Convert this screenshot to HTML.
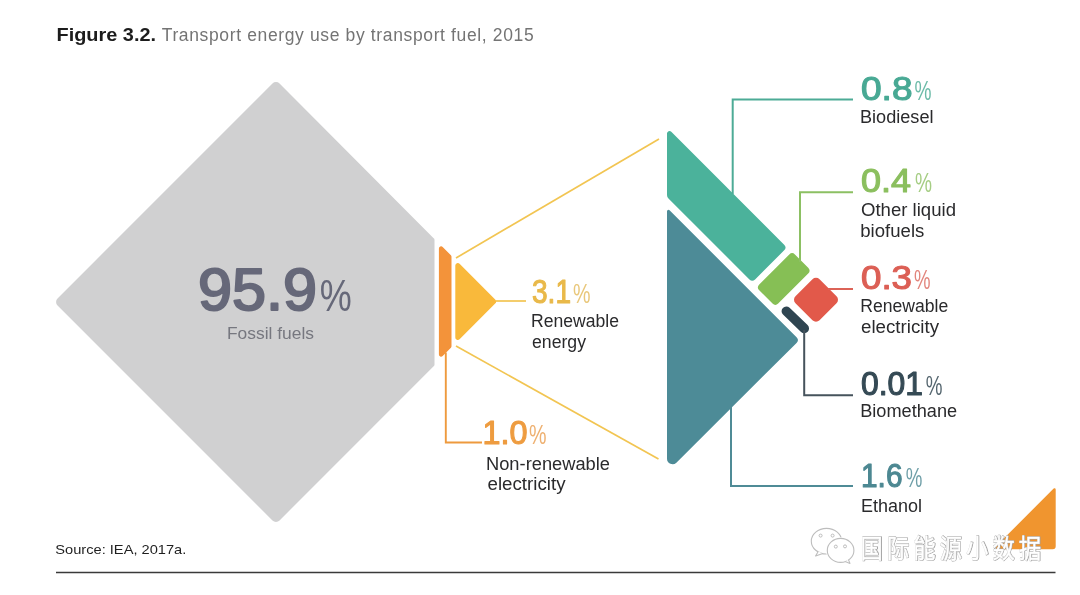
<!DOCTYPE html>
<html lang="en">
<head>
<meta charset="utf-8">
<title>Figure 3.2. Transport energy use by transport fuel, 2015</title>
<style>
html,body{margin:0;padding:0;background:#fff;}
body{width:1080px;height:595px;overflow:hidden;font-family:"Liberation Sans","Noto Sans CJK SC",sans-serif;}
svg{display:block;}
text{font-family:"Liberation Sans","Noto Sans CJK SC",sans-serif;}
.lbl{font-size:17.5px;fill:#2a2a2c;}
.num{font-size:32.5px;font-weight:normal;stroke-width:1.1px;stroke-linejoin:round;}
.pct{font-size:27px;font-weight:normal;}
.wm{font-family:"Noto Sans CJK SC","WenQuanYi Zen Hei",sans-serif;font-size:26.5px;}
</style>
</head>
<body>
<svg width="1080" height="595" viewBox="0 0 1080 595">
<rect width="1080" height="595" fill="#ffffff"/>

<!-- title -->
<text x="56.5" y="40.5" font-size="17.5" font-weight="bold" fill="#1c1c1c" textLength="99.5" lengthAdjust="spacingAndGlyphs">Figure 3.2.</text>
<text x="161.7" y="40.5" font-size="17.5" fill="#747474" textLength="372" lengthAdjust="spacing">Transport energy use by transport fuel, 2015</text>

<!-- fossil diamond -->
<path id="fossil" fill="#d0d0d1" d="M272.46,83.54A5.00,5.00 0 0 1 279.54,83.54L433.4,237.9A2.00,2.00 0 0 1 434.5,239.8L434.5,364.8A2.00,2.00 0 0 1 433.4,366.5L279.54,520.46A5.00,5.00 0 0 1 272.46,520.46L57.54,305.54A5.00,5.00 0 0 1 57.54,298.46Z"/>

<!-- orange bar + yellow triangle -->
<path fill="#f3933a" d="M438.90,248.51A2.20,2.20 0 0 1 442.66,246.96L450.91,255.21A2.00,2.00 0 0 1 451.50,256.63L451.50,346.37A2.00,2.00 0 0 1 450.91,347.79L442.66,356.04A2.20,2.20 0 0 1 438.90,354.49Z"/>
<path fill="#f9b93b" d="M455.30,265.54A2.50,2.50 0 0 1 459.57,263.77L495.18,299.38A3.00,3.00 0 0 1 495.18,303.62L459.57,339.23A2.50,2.50 0 0 1 455.30,337.46Z"/>
<g fill="none" stroke="#f2c552" stroke-width="1.7">
<line x1="456" y1="258" x2="659" y2="139"/>
<line x1="456" y1="346" x2="658.5" y2="459"/>
<line x1="496" y1="301" x2="526" y2="301"/>
</g>
<polyline points="445.8,352.5 445.8,442.5 482,442.5" fill="none" stroke="#ee9a3e" stroke-width="1.9"/>

<!-- right triangle pieces -->
<g id="pieces">
<path fill="#4bb29b" d="M667.00,133.54A2.50,2.50 0 0 1 671.27,131.77L784.17,244.67A4.00,4.00 0 0 1 784.17,250.33L755.08,279.42A4.00,4.00 0 0 1 749.42,279.42L668.46,198.46A5.00,5.00 0 0 1 667.00,194.93Z"/>
<path fill="#4d8b97" d="M667.00,211.32A1.50,1.50 0 0 1 669.56,210.26L796.57,337.27A4.00,4.00 0 0 1 796.56,342.93L676.38,462.65A5.50,5.50 0 0 1 667.00,458.76Z"/>
<path fill="#86bf55" d="M789.27,254.53A4.00,4.00 0 0 1 794.93,254.53L808.22,267.82A4.00,4.00 0 0 1 808.22,273.48L778.18,303.52A4.00,4.00 0 0 1 772.52,303.52L759.23,290.23A4.00,4.00 0 0 1 759.23,284.57Z"/>
<path fill="#e2594a" d="M812.46,279.27A5.00,5.00 0 0 1 819.54,279.27L836.53,296.26A5.00,5.00 0 0 1 836.53,303.34L819.54,320.33A5.00,5.00 0 0 1 812.46,320.33L795.47,303.34A5.00,5.00 0 0 1 795.47,296.26Z"/>
<line x1="786.3" y1="311.2" x2="804.3" y2="328.5" stroke="#2f4551" stroke-width="9.5" stroke-linecap="round"/>
</g>

<!-- connectors -->
<g fill="none" stroke-width="2">
<polyline points="732.7,194 732.7,99.5 853,99.5" stroke="#4dab96"/>
<polyline points="800,262 800,192.3 853,192.3" stroke="#8cc063"/>
<line x1="828" y1="289" x2="853" y2="289" stroke="#dc6357"/>
<polyline points="804.2,330 804.2,395.3 853,395.3" stroke="#46535c"/>
<polyline points="731,406 731,486 853,486" stroke="#4f8b96"/>
</g>

<!-- fossil text -->
<text x="198" y="310.2" font-size="59" fill="#666879" stroke="#666879" stroke-width="2.1" stroke-linejoin="round" textLength="119" lengthAdjust="spacingAndGlyphs">95.9</text>
<text x="319.8" y="311" font-size="45" fill="#666879" textLength="32" lengthAdjust="spacingAndGlyphs">%</text>
<text x="227" y="339" font-size="17" fill="#76777f" textLength="87" lengthAdjust="spacingAndGlyphs">Fossil fuels</text>

<!-- 3.1 -->
<text class="num" x="532" y="302.8" fill="#e9b94a" stroke="#e9b94a" textLength="39" lengthAdjust="spacingAndGlyphs">3.1</text>
<text class="pct" x="573" y="302.8" fill="#e9c77a" textLength="17.5" lengthAdjust="spacingAndGlyphs">%</text>
<text class="lbl" x="531" y="327" textLength="88" lengthAdjust="spacingAndGlyphs">Renewable</text>
<text class="lbl" x="532" y="347.7" textLength="54" lengthAdjust="spacingAndGlyphs">energy</text>

<!-- 1.0 -->
<text class="num" x="482.5" y="444.4" fill="#ee9c40" stroke="#ee9c40" textLength="45" lengthAdjust="spacingAndGlyphs">1.0</text>
<text class="pct" x="529" y="444.4" fill="#eeb070" textLength="17.5" lengthAdjust="spacingAndGlyphs">%</text>
<text class="lbl" x="486" y="469.5" textLength="124" lengthAdjust="spacingAndGlyphs">Non-renewable</text>
<text class="lbl" x="487.5" y="490" textLength="78" lengthAdjust="spacingAndGlyphs">electricity</text>

<!-- 0.8 -->
<text class="num" x="861" y="99.5" fill="#48a994" stroke="#48a994" textLength="51.5" lengthAdjust="spacingAndGlyphs">0.8</text>
<text class="pct" x="914.5" y="99.5" fill="#6cbba8" textLength="17" lengthAdjust="spacingAndGlyphs">%</text>
<text class="lbl" x="860" y="123" textLength="73.5" lengthAdjust="spacingAndGlyphs">Biodiesel</text>

<!-- 0.4 -->
<text class="num" x="861" y="192.2" fill="#8bbf5e" stroke="#8bbf5e" textLength="50" lengthAdjust="spacingAndGlyphs">0.4</text>
<text class="pct" x="915" y="192.2" fill="#a5cd83" textLength="17" lengthAdjust="spacingAndGlyphs">%</text>
<text class="lbl" x="861" y="216.3" textLength="95" lengthAdjust="spacingAndGlyphs">Other liquid</text>
<text class="lbl" x="860.3" y="236.5" textLength="64" lengthAdjust="spacingAndGlyphs">biofuels</text>

<!-- 0.3 -->
<text class="num" x="861" y="289.3" fill="#dc5f55" stroke="#dc5f55" textLength="51" lengthAdjust="spacingAndGlyphs">0.3</text>
<text class="pct" x="914" y="289.3" fill="#e2857c" textLength="16.5" lengthAdjust="spacingAndGlyphs">%</text>
<text class="lbl" x="860.2" y="312" textLength="88" lengthAdjust="spacingAndGlyphs">Renewable</text>
<text class="lbl" x="861" y="332.6" textLength="78" lengthAdjust="spacingAndGlyphs">electricity</text>

<!-- 0.01 -->
<text class="num" x="861" y="395.3" fill="#354a55" stroke="#354a55" textLength="62" lengthAdjust="spacingAndGlyphs">0.01</text>
<text class="pct" x="925.8" y="395.3" fill="#55666f" textLength="16.7" lengthAdjust="spacingAndGlyphs">%</text>
<text class="lbl" x="860.2" y="417.3" textLength="97" lengthAdjust="spacingAndGlyphs">Biomethane</text>

<!-- 1.6 -->
<text class="num" x="861" y="487" fill="#4d8892" stroke="#4d8892" textLength="41.5" lengthAdjust="spacingAndGlyphs">1.6</text>
<text class="pct" x="905.8" y="487" fill="#6f9fa8" textLength="16.6" lengthAdjust="spacingAndGlyphs">%</text>
<text class="lbl" x="861" y="512.3" textLength="61" lengthAdjust="spacingAndGlyphs">Ethanol</text>

<!-- corner triangle -->
<path fill="#f0952f" d="M1053.65,488.55A1.20,1.20 0 0 1 1055.70,489.40L1055.70,546.30A3.00,3.00 0 0 1 1052.70,549.30L997.73,549.30A2.00,2.00 0 0 1 996.31,545.89Z"/>

<!-- source + rule -->
<text x="55.3" y="554" font-size="13.5" fill="#1f1f1f" textLength="131" lengthAdjust="spacingAndGlyphs">Source: IEA, 2017a.</text>
<line x1="56" y1="572.5" x2="1055.5" y2="572.5" stroke="#3a3a3a" stroke-width="1.6"/>

<!-- watermark -->
<g id="wm">
<g fill="#ffffff" stroke="#bdbdbd" stroke-width="1.1" stroke-linejoin="round">
<ellipse cx="826.5" cy="541.2" rx="15.2" ry="12.8"/>
<path d="M818.2,551.4 L815.6,556 L822.8,553.4" />
<ellipse cx="840.6" cy="550.4" rx="14.6" ry="13.2" fill="#ffffff" stroke="none"/>
<ellipse cx="840.6" cy="550.4" rx="13.3" ry="12"/>
<path d="M845.2,561.4 L850,563.4 L848.4,559.6"/>
<g fill="none" stroke-width="1">
<circle cx="820.6" cy="535.6" r="1.5"/><circle cx="832.6" cy="535.6" r="1.5"/>
<circle cx="835.8" cy="546.6" r="1.5"/><circle cx="845" cy="546.4" r="1.5"/>
</g>
</g>
<text class="wm" transform="translate(860.9,557.9) scale(0.84,1)" fill="#a2a2a2" stroke="#a2a2a2" stroke-width="1.5" stroke-linejoin="round" textLength="215" lengthAdjust="spacing">国际能源小数据</text>
<text class="wm" transform="translate(860.5,557.5) scale(0.84,1)" fill="#ffffff" stroke="#ffffff" stroke-width="0.5" textLength="215" lengthAdjust="spacing">国际能源小数据</text>
</g>
</svg>
</body>
</html>
